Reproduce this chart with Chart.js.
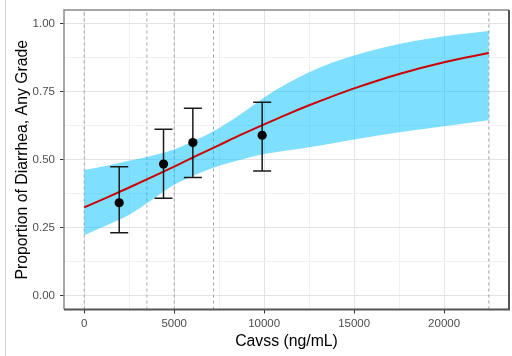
<!DOCTYPE html>
<html>
<head>
<meta charset="utf-8">
<script src="https://cdn.jsdelivr.net/npm/chart.js@4.4.1/dist/chart.umd.min.js"></script>
<style>
  html, body { margin: 0; padding: 0; background: #fff; }
  #wrap { position: relative; width: 512px; height: 356px; }
  #edge { position: absolute; left: 5px; top: 0; width: 1px; height: 356px; background: #cfcfcf; }
  canvas { position: absolute; left: 0; top: 0; }
</style>
</head>
<body>
<div id="wrap">
  <canvas id="c" width="512" height="356"></canvas>
  <div id="edge"></div>
</div>
<script>
// ---- data ----
const curveX   = [0, 1250, 2500, 3750, 5000, 6250, 7500, 8750, 10000, 11250, 12500, 13750, 15000, 17500, 20000, 22483];
const curveP   = [0.325, 0.361, 0.398, 0.436, 0.475, 0.515, 0.554, 0.593, 0.630, 0.666, 0.700, 0.732, 0.762, 0.815, 0.858, 0.892];
const ciUpper  = [0.462, 0.478, 0.496, 0.515, 0.538, 0.573, 0.617, 0.670, 0.729, 0.779, 0.821, 0.856, 0.883, 0.925, 0.954, 0.973];
const ciLower  = [0.223, 0.259, 0.298, 0.352, 0.408, 0.447, 0.478, 0.501, 0.521, 0.534, 0.546, 0.560, 0.574, 0.601, 0.623, 0.645];

const obsX  = [1944, 4407, 6037, 9889];
const obsP  = [0.342, 0.484, 0.563, 0.590];
const obsLo = [0.232, 0.359, 0.435, 0.459];
const obsHi = [0.474, 0.612, 0.689, 0.711];

const quantileX = [0, 3480, 5000, 7185, 22483];

const xTicks = [0, 5000, 10000, 15000, 20000];
const xMinorTicks = [2500, 7500, 12500, 17500, 22500];
const yTicks = [0, 0.25, 0.5, 0.75, 1.0];
const yMinorTicks = [0.125, 0.375, 0.625, 0.875];

const xRange = [-1124, 23607];
const yRange = [-0.05, 1.05];

// ---- build datasets ----
const pts = (xs, ys) => xs.map((x, i) => ({ x: x, y: ys[i] }));

const datasets = [];
// observed points (top-most)
datasets.push({
  type: 'scatter', data: pts(obsX, obsP),
  pointRadius: 4.6, pointBackgroundColor: '#000', pointBorderColor: '#000', pointBorderWidth: 0
});
// error bars
obsX.forEach((x, i) => {
  datasets.push({
    type: 'line', data: [{ x: x, y: obsLo[i] }, { x: x, y: obsHi[i] }],
    borderColor: '#1a1a1a', borderWidth: 1.5, showLine: true, fill: false,
    pointStyle: 'line', pointRadius: 9, pointBorderColor: '#1a1a1a', pointBorderWidth: 1.5,
    pointBackgroundColor: '#1a1a1a'
  });
});
// fitted curve
datasets.push({
  type: 'line', data: pts(curveX, curveP),
  borderColor: '#cc0000', borderWidth: 2, pointRadius: 0, fill: false,
  cubicInterpolationMode: 'monotone'
});
// ribbon upper (filled to next dataset)
datasets.push({
  type: 'line', data: pts(curveX, ciUpper),
  borderWidth: 0, borderColor: 'rgba(0,0,0,0)', pointRadius: 0,
  backgroundColor: 'rgba(0,191,255,0.5)', fill: '+1',
  cubicInterpolationMode: 'monotone'
});
// ribbon lower
datasets.push({
  type: 'line', data: pts(curveX, ciLower),
  borderWidth: 0, borderColor: 'rgba(0,0,0,0)', pointRadius: 0, fill: false,
  cubicInterpolationMode: 'monotone'
});
// dashed quantile lines
quantileX.forEach(q => {
  datasets.push({
    type: 'line', data: [{ x: q, y: yRange[0] }, { x: q, y: yRange[1] }],
    borderColor: '#a6a6a6', borderWidth: 1, borderDash: [3, 3], pointRadius: 0, fill: false
  });
});

const borderPlugin = {
  id: 'panelBorder',
  afterDraw(chart) {
    const a = chart.chartArea, ctx = chart.ctx;
    ctx.save();
    ctx.strokeStyle = '#8a8a8a'; ctx.lineWidth = 1.5;
    ctx.beginPath();
    ctx.moveTo(a.left, a.bottom); ctx.lineTo(a.left, a.top); ctx.lineTo(a.right, a.top);
    ctx.stroke();
    ctx.strokeStyle = '#555'; ctx.lineWidth = 2;
    ctx.beginPath();
    ctx.moveTo(a.right, a.top); ctx.lineTo(a.right, a.bottom); ctx.lineTo(a.left, a.bottom);
    ctx.stroke();
    ctx.restore();
  }
};

const isMajorX = v => xTicks.includes(v);
const isMajorY = v => yTicks.some(t => Math.abs(t - v) < 1e-9);
const FONT = "'Liberation Sans', Arial, sans-serif";

new Chart(document.getElementById('c'), {
  type: 'line',
  data: { datasets: datasets },
  plugins: [borderPlugin],
  options: {
    responsive: false,
    animation: false,
    layout: { autoPadding: false, padding: { left: 0, right: 3, top: 10, bottom: 0 } },
    plugins: { legend: { display: false }, tooltip: { enabled: false } },
    scales: {
      x: {
        type: 'linear', min: xRange[0], max: xRange[1],
        afterBuildTicks: s => { s.ticks = xTicks.concat(xMinorTicks).sort((a, b) => a - b).map(v => ({ value: v })); },
        afterFit: s => { s.height = 46.5; s.paddingLeft = 0; s.paddingRight = 0; },
        ticks: {
          autoSkip: false, maxRotation: 0, padding: 3.5, color: '#4d4d4d',
          font: { family: FONT, size: 11.5 },
          callback: v => isMajorX(v) ? String(v) : ''
        },
        grid: {
          color: c => isMajorX(c.tick.value) ? '#e3e3e3' : '#f1f1f1',
          lineWidth: 1, tickLength: 4,
          tickColor: c => isMajorX(c.tick.value) ? '#333' : 'rgba(0,0,0,0)'
        },
        border: { display: false },
        title: {
          display: true, text: 'Cavss (ng/mL)', color: '#000',
          font: { family: FONT, size: 15.8 }, padding: { top: 0, bottom: 4.5 }
        }
      },
      y: {
        type: 'linear', min: yRange[0], max: yRange[1],
        afterBuildTicks: s => { s.ticks = yTicks.concat(yMinorTicks).sort((a, b) => a - b).map(v => ({ value: v })); },
        afterFit: s => { s.width = 64; s.paddingTop = 0; s.paddingBottom = 0; },
        ticks: {
          autoSkip: false, padding: 5, color: '#4d4d4d',
          font: { family: FONT, size: 11.5 },
          callback: v => isMajorY(v) ? v.toFixed(2) : ''
        },
        grid: {
          color: c => isMajorY(c.tick.value) ? '#e3e3e3' : '#f1f1f1',
          lineWidth: 1, tickLength: 4,
          tickColor: c => isMajorY(c.tick.value) ? '#333' : 'rgba(0,0,0,0)'
        },
        border: { display: false },
        title: {
          display: true, text: 'Proportion of Diarrhea, Any Grade', color: '#000',
          font: { family: FONT, size: 15.8 }, padding: { top: 13, bottom: 0 }
        }
      }
    }
  }
});
</script>
</body>
</html>
